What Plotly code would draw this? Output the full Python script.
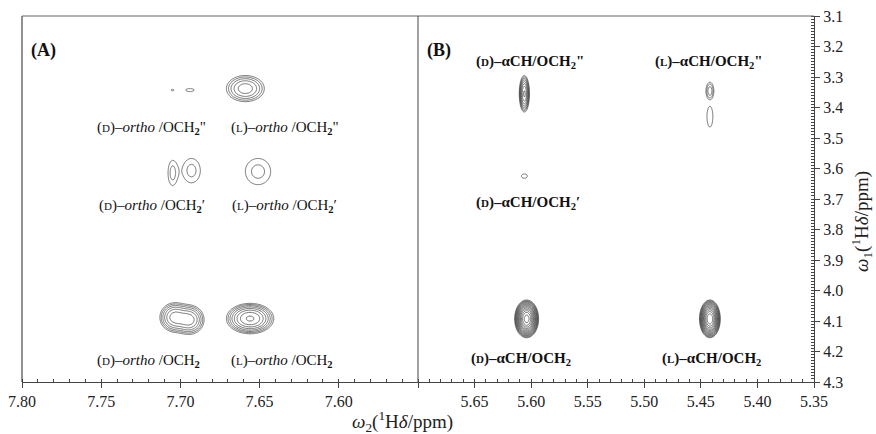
import numpy as np
import plotly.graph_objects as go

# ---------------- data ----------------
# Panel A (aromatic ortho / OCH2 cross peaks)
peakA_x = [7.7050, 7.6940, 7.6590, 7.7050, 7.6930, 7.6510, 7.7035, 7.6945, 7.6560]
peakA_y = [3.343, 3.343, 3.338, 3.615, 3.607, 3.610, 4.088, 4.096, 4.092]
peakA_hx = [0.0008, 0.0026, 0.0120, 0.0028, 0.0056, 0.0080, 0.0095, 0.0095, 0.0150]
peakA_hy = [0.003, 0.005, 0.043, 0.040, 0.040, 0.043, 0.048, 0.048, 0.050]
peakA_amp = [1.3, 1.3, 9.0, 1.9, 1.9, 1.9, 14.0, 14.0, 30.0]
peakA_group = [0, 1, 2, 3, 3, 4, 5, 5, 6]

# Panel B (alpha CH / OCH2 cross peaks)
peakB_x = [5.606, 5.606, 5.442, 5.442, 5.604, 5.442]
peakB_y = [3.355, 3.625, 3.346, 3.430, 4.093, 4.093]
peakB_hx = [0.0045, 0.0026, 0.0035, 0.0026, 0.0106, 0.0092]
peakB_hy = [0.060, 0.007, 0.029, 0.034, 0.062, 0.062]
peakB_amp = [30.0, 1.3, 3.5, 1.3, 600.0, 450.0]
peakB_group = [0, 1, 2, 3, 4, 5]

xA_ticks = [7.80, 7.75, 7.70, 7.65, 7.60, 7.55]
xA_text = ["7.80", "7.75", "7.70", "7.65", "7.60", ""]
xB_ticks = [5.70, 5.65, 5.60, 5.55, 5.50, 5.45, 5.40, 5.35]
xB_text = ["", "5.65", "5.60", "5.55", "5.50", "5.45", "5.40", "5.35"]
y_ticks = [3.1, 3.2, 3.3, 3.4, 3.5, 3.6, 3.7, 3.8, 3.9, 4.0, 4.1, 4.2, 4.3]
y_text = ["3.1", "3.2", "3.3", "3.4", "3.5", "3.6", "3.7", "3.8", "3.9", "4.0", "4.1", "4.2", "4.3"]

sc = lambda s: "<span style='font-size:11px'>%s</span>" % s
labA_text = [
    "(" + sc("D") + ")–<i>ortho</i> /OCH<sub><b>2</b></sub>\"",
    "(" + sc("L") + ")–<i>ortho</i> /OCH<sub><b>2</b></sub>\"",
    "(" + sc("D") + ")–<i>ortho</i> /OCH<sub><b>2</b></sub>′",
    "(" + sc("L") + ")–<i>ortho</i> /OCH<sub><b>2</b></sub>′",
    "(" + sc("D") + ")–<i>ortho</i> /OCH<sub><b>2</b></sub>",
    "(" + sc("L") + ")–<i>ortho</i> /OCH<sub><b>2</b></sub>",
]
labA_x = [7.718, 7.634, 7.718, 7.634, 7.720, 7.636]
labA_y = [3.467, 3.467, 3.723, 3.723, 4.231, 4.231]

labB_text = [
    "(" + sc("D") + ")–αCH/OCH<sub><b>2</b></sub>\"",
    "(" + sc("L") + ")–αCH/OCH<sub><b>2</b></sub>\"",
    "(" + sc("D") + ")–αCH/OCH<sub><b>2</b></sub>′",
    "(" + sc("D") + ")–αCH/OCH<sub><b>2</b></sub>",
    "(" + sc("L") + ")–αCH/OCH<sub><b>2</b></sub>",
]
labB_x = [5.601, 5.4425, 5.603, 5.609, 5.441]
labB_y = [3.251, 3.251, 3.713, 4.225, 4.225]

# ---------------- build contour surfaces ----------------
F = 1.6  # contour level factor


def peak_params(px, py, hx, hy, amp):
    out = []
    for x0, y0, a, b, A in zip(px, py, hx, hy, amp):
        k = np.sqrt(2 * np.log(A))
        out.append((x0, y0, a / k, b / k, A))
    return out


def window_surface(params, idx, n=24):
    sel = [params[i] for i in idx]
    ext = lambda p: np.sqrt(2 * np.log(p[4]))
    xs0 = min(p[0] - 1.6 * p[2] * ext(p) for p in sel)
    xs1 = max(p[0] + 1.6 * p[2] * ext(p) for p in sel)
    ys0 = min(p[1] - 1.5 * p[3] * ext(p) for p in sel)
    ys1 = max(p[1] + 1.5 * p[3] * ext(p) for p in sel)
    xs = np.linspace(xs0, xs1, n)
    ys = np.linspace(ys0, ys1, n)
    X, Y = np.meshgrid(xs, ys)
    Z = np.zeros_like(X)
    for (x0, y0, sx, sy, A) in sel:
        Z += A * np.exp(-0.5 * ((X - x0) / sx) ** 2 - 0.5 * ((Y - y0) / sy) ** 2)
    LZ = np.log(Z + 1e-12) / np.log(F)
    return xs, ys, LZ


fig = go.Figure()
line_col = "#3a3a3a"
for peaks, groups, xa in [
    (peak_params(peakA_x, peakA_y, peakA_hx, peakA_hy, peakA_amp), peakA_group, "x"),
    (peak_params(peakB_x, peakB_y, peakB_hx, peakB_hy, peakB_amp), peakB_group, "x2"),
]:
    for g in sorted(set(groups)):
        idx = [i for i, gg in enumerate(groups) if gg == g]
        xs, ys, lz = window_surface(peaks, idx)
        fig.add_trace(go.Contour(
            x=xs, y=ys, z=lz, xaxis=xa, yaxis="y",
            contours=dict(coloring="none", start=0, end=30, size=1, showlabels=False),
            line=dict(color=line_col, width=0.7, smoothing=0),
            showscale=False, hoverinfo="skip",
        ))

FONT = "Liberation Serif, Times New Roman, serif"
axis_common = dict(
    showgrid=False, zeroline=False, showline=True, linecolor="#444", linewidth=1, automargin=False,
    ticks="outside", ticklen=5, tickcolor="#444", tickfont=dict(family=FONT, size=16, color="#222"),
)

fig.update_layout(
    width=876, height=434,
    margin=dict(l=22, r=62, t=16, b=52),
    paper_bgcolor="white", plot_bgcolor="white",
    showlegend=False,
    font=dict(family=FONT, color="#222"),
    xaxis=dict(domain=[0, 0.5], range=[7.80, 7.55], anchor="y",
               tickmode="array", tickvals=xA_ticks, ticktext=xA_text,
               minor=dict(tickmode="linear", tick0=7.55, dtick=0.01, ticks="inside", ticklen=3, tickcolor="#444"),
               **axis_common),
    xaxis2=dict(domain=[0.5, 1], range=[5.70, 5.35], anchor="y",
                tickmode="array", tickvals=xB_ticks, ticktext=xB_text,
                minor=dict(tickmode="linear", tick0=5.35, dtick=0.01, ticks="inside", ticklen=3, tickcolor="#444"),
                **axis_common),
    yaxis=dict(range=[4.3, 3.1], anchor="x2", side="right",
               tickmode="array", tickvals=y_ticks, ticktext=y_text,
               minor=dict(tickmode="linear", tick0=3.1, dtick=0.01, ticks="inside", ticklen=3, tickcolor="#444"),
               **axis_common),
)

# borders (left, top, divider)
for x0, y0, x1, y1, c in [(0, 0, 0, 1, "#222"), (0, 1, 1, 1, "#666"), (0.5, 0, 0.5, 1, "#444")]:
    fig.add_shape(type="line", xref="paper", yref="paper", x0=x0, y0=y0, x1=x1, y1=y1,
                  line=dict(color=c, width=1))

ann = []
for t, x, y in zip(labA_text, labA_x, labA_y):
    ann.append(dict(text=t, x=x, y=y, xref="x", yref="y", showarrow=False,
                    font=dict(family=FONT, size=15, color="#111")))
for t, x, y in zip(labB_text, labB_x, labB_y):
    ann.append(dict(text="<b>" + t + "</b>", x=x, y=y, xref="x2", yref="y", showarrow=False,
                    font=dict(family=FONT, size=15, color="#111")))
ann.append(dict(text="<b>(A)</b>", x=0.0088, y=0.94, xref="paper", yref="paper", xanchor="left",
                showarrow=False, font=dict(family=FONT, size=18, color="#111")))
ann.append(dict(text="<b>(B)</b>", x=0.509, y=0.94, xref="paper", yref="paper", xanchor="left",
                showarrow=False, font=dict(family=FONT, size=18, color="#111")))
ann.append(dict(text="<i>ω</i><sub>2</sub>(<sup>1</sup>H<i>δ</i>/ppm)", x=0.481, y=-0.109,
                xref="paper", yref="paper", showarrow=False, yanchor="middle",
                font=dict(family=FONT, size=19, color="#222")))
ann.append(dict(text="<i>ω</i><sub>1</sub>(<sup>1</sup>H<i>δ</i>/ppm)", x=1.0, xshift=48,
                y=(382 - 222) / 366, xref="paper", yref="paper", showarrow=False,
                textangle=-90, xanchor="center", yanchor="middle",
                font=dict(family=FONT, size=19, color="#222")))
fig.update_layout(annotations=ann)

fig.write_html("out.html", config={"displayModeBar": False},
               post_script="document.body.style.margin='0px';")
